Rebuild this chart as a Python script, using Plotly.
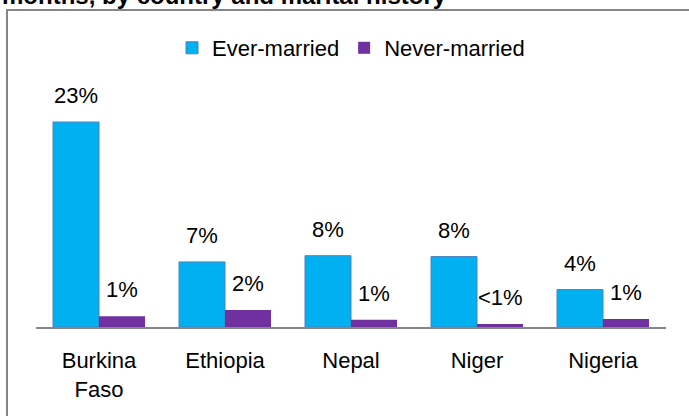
import plotly.graph_objects as go

# Categories and series values (percent)
countries = ["Burkina<br>Faso", "Ethiopia", "Nepal", "Niger", "Nigeria"]
ever_married = [23.0, 7.3, 8.0, 7.9, 4.2]
never_married = [1.2, 1.9, 0.8, 0.35, 0.9]
series_names = ["Ever-married", "Never-married"]

BLUE = "#00B0F0"
PURPLE = "#7030A0"
GRID = "#868686"
FONT = "Liberation Sans, Arial, sans-serif"

fig = go.Figure()
fig.add_trace(go.Bar(
    x=countries, y=ever_married, name=series_names[0],
    marker=dict(color=BLUE, line=dict(color="#4F81BD", width=1)),
))
fig.add_trace(go.Bar(
    x=countries, y=never_married, name=series_names[1],
    marker=dict(color=PURPLE, line=dict(color=PURPLE, width=0)),
))


def pct_label(v):
    return "<1%" if v < 0.5 else f"{round(v)}%"


# Value labels sitting above each bar
half = (1 - 0.27) / 4
annotations = []
for i, (a, b) in enumerate(zip(ever_married, never_married)):
    for xpos, v in ((i - half, a), (i + half, b)):
        annotations.append(dict(
            x=xpos, y=v, xref="x", yref="y", text=pct_label(v),
            showarrow=False, yanchor="bottom", yshift=12,
            font=dict(family=FONT, size=22, color="black"),
        ))

# Chart heading (only its last line fits on the canvas)
annotations.append(dict(
    x=0, y=1, xref="paper", yref="paper", xanchor="left", yanchor="bottom",
    xshift=-36, yshift=74, showarrow=False,
    text="<b>months, by country and marital history</b>",
    font=dict(family=FONT, size=24, color="black"),
))

top, bottom, left, right = 85, 89, 36, 23
plot_h = 416 - top - bottom
plot_w = 689 - left - right
y_max = 23 * plot_h / 205

fig.update_layout(
    width=689, height=416,
    margin=dict(l=left, r=right, t=top, b=bottom, pad=0, autoexpand=False),
    paper_bgcolor="white", plot_bgcolor="white",
    barmode="group", bargap=0.27, bargroupgap=0,
    showlegend=True,
    legend=dict(
        orientation="h", x=0.5, xanchor="center",
        y=(416 - bottom - 48) / plot_h, yanchor="middle",
        font=dict(family=FONT, size=22, color="black"),
        traceorder="normal", itemwidth=30,
    ),
    xaxis=dict(
        showline=True, linecolor=GRID, linewidth=2, ticks="",
        showgrid=False, zeroline=False, automargin=False,
        tickfont=dict(family=FONT, size=22, color="black"),
        ticklabelstandoff=13,
    ),
    yaxis=dict(
        range=[0, y_max], visible=False, showgrid=False, zeroline=False,
        automargin=False,
    ),
    annotations=annotations,
    shapes=[dict(
        type="rect", xref="paper", yref="paper",
        x0=(7 - left) / plot_w, x1=(700 - left) / plot_w,
        y0=(416 - bottom - 440) / plot_h, y1=(416 - bottom - 10) / plot_h,
        line=dict(color=GRID, width=2), fillcolor="rgba(0,0,0,0)",
        layer="below",
    )],
)

fig.write_html("out.html")
